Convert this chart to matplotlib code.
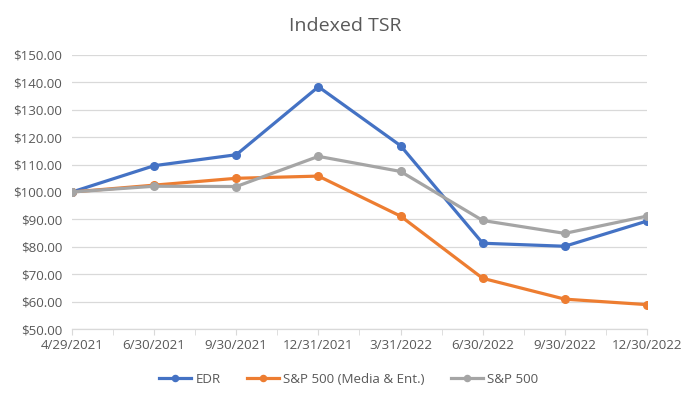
import matplotlib.pyplot as plt
from matplotlib.ticker import FuncFormatter, MultipleLocator
import numpy as np

dates = ['4/29/2021', '6/30/2021', '9/30/2021', '12/31/2021', '3/31/2022',
         '6/30/2022', '9/30/2022', '12/30/2022']
edr = [100.0, 109.6, 113.6, 138.4, 116.9, 81.3, 80.2, 89.4]
media_ent = [100.0, 102.5, 105.0, 105.8, 91.2, 68.5, 60.9, 58.9]
sp500 = [100.0, 102.1, 102.0, 113.0, 107.5, 89.6, 84.9, 91.2]

plt.rcParams['font.family'] = ['Open Sans', 'DejaVu Sans']
txt = '#595959'
grid = '#D9D9D9'

fig = plt.figure(figsize=(6.91, 3.99), dpi=100)
ax = fig.add_axes([0.1042, 0.1754, 0.8321, 0.6868])

x = np.arange(len(dates))
ax.plot(x, edr, color='#4472C4', lw=2.3, marker='o', ms=5.5, label='EDR')
ax.plot(x, media_ent, color='#ED7D31', lw=2.3, marker='o', ms=5.5,
        label='S&P 500 (Media & Ent.)')
ax.plot(x, sp500, color='#A5A5A5', lw=2.3, marker='o', ms=5.5, label='S&P 500')

ax.set_xlim(0, len(dates) - 1)
ax.set_ylim(50, 150)
ax.yaxis.set_major_locator(MultipleLocator(10))
ax.yaxis.set_major_formatter(FuncFormatter(lambda v, p: f'${v:.2f}'))
ax.set_xticks(x)
ax.set_xticklabels(dates)
ax.set_xticks(x[:-1] + 0.5, minor=True)

ax.grid(axis='y', color=grid, lw=0.9)
ax.set_axisbelow(True)
for s in ['top', 'right', 'left']:
    ax.spines[s].set_visible(False)
ax.spines['bottom'].set_color(grid)
ax.spines['bottom'].set_linewidth(0.9)
ax.tick_params(axis='y', length=0, colors=txt, labelsize=9.6, pad=7)
ax.tick_params(axis='x', which='both', length=4, color=grid, colors=txt,
               labelsize=9.6, pad=3)
ax.tick_params(axis='x', which='minor', length=4, color=grid)

fig.text(0.5, 0.935, 'Indexed TSR', ha='center', va='center',
         fontsize=14, color=txt)

fig.legend(loc='center', bbox_to_anchor=(0.505, 0.05), ncol=3, frameon=False,
           fontsize=9.6, labelcolor=txt, handlelength=2.4, columnspacing=2.0,
           handletextpad=0.3, markerscale=0.8)

fig.savefig('out.png', dpi=100)
